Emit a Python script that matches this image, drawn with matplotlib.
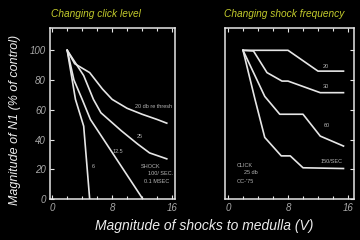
import matplotlib
matplotlib.use("Agg")
import matplotlib.pyplot as plt

# ---- data (left: changing click level) ----
click_x_20 = [2, 3, 5, 6.7, 8, 10, 12, 14, 15.3]
click_y_20 = [100, 91, 85, 74, 67, 61, 57, 53.5, 51]
click_x_25 = [2, 4.2, 5.5, 6.5, 9.2, 11.4, 13, 15.3]
click_y_25 = [100, 83, 67, 58, 46, 37, 31, 27]
click_x_125 = [2, 2.9, 4.0, 5.1, 12.1]
click_y_125 = [100, 80, 67, 53.5, 0]
click_x_6 = [2, 3.1, 4.2, 5.0]
click_y_6 = [100, 67, 49, 0]

# ---- data (right: changing shock frequency) ----
freq_x_20 = [2, 8, 10, 12, 15.4]
freq_y_20 = [100, 100, 93, 86, 86]
freq_x_30 = [2, 3.4, 5.2, 7.2, 8, 12.3, 15.4]
freq_y_30 = [100, 99.5, 85, 79.3, 79.3, 71.5, 71.5]
freq_x_60 = [2, 4.9, 6.9, 10, 12.3, 15.4]
freq_y_60 = [100, 69, 57, 57, 42.3, 35.6]
freq_x_150 = [2, 3.6, 4.9, 7.1, 8.3, 10, 15.4]
freq_y_150 = [100, 67, 41.4, 29, 29, 21, 20.5]

x_ticks = [0, 8, 16]
y_ticks = [0, 20, 40, 60, 80, 100]

BG = "black"
LINE = "#e6e6e6"
TICKC = "#a8a8a8"
TITLEC = "#c4cc2c"
FONT = "Liberation Sans"

fig = plt.figure(figsize=(3.6, 2.4), dpi=100, facecolor=BG)
axL = fig.add_axes([50/360, 41/240, 125/360, 171/240])
axR = fig.add_axes([225/360, 41/240, 129/360, 171/240])

for ax, xl in ((axL, (-0.3, 16.4)), (axR, (-0.4, 16.8))):
    ax.set_facecolor(BG)
    ax.set_xlim(*xl)
    ax.set_ylim(0, 115)
    for s in ax.spines.values():
        s.set_color(LINE)
        s.set_linewidth(1.1)
    ax.set_xticks(x_ticks)
    ax.set_xticks(range(0, 17, 2), minor=True)
    ax.set_yticks(y_ticks)
    ax.tick_params(which="both", direction="in", color=LINE, width=0.8,
                   top=True, labelsize=7, labelcolor=TICKC, pad=3)
    ax.tick_params(which="major", length=3)
    ax.tick_params(which="minor", length=2)
    for lab in ax.get_xticklabels() + ax.get_yticklabels():
        lab.set_fontstyle("italic")
        lab.set_fontfamily(FONT)

axL.tick_params(axis="y", left=True, right=False)
axR.tick_params(axis="y", left=False, right=True, labelleft=False, labelright=False)

lw = 1.2
for xs, ys in ((click_x_20, click_y_20), (click_x_25, click_y_25),
               (click_x_125, click_y_125), (click_x_6, click_y_6)):
    axL.plot(xs, ys, color=LINE, lw=lw, solid_joinstyle="round")
for xs, ys in ((freq_x_20, freq_y_20), (freq_x_30, freq_y_30),
               (freq_x_60, freq_y_60), (freq_x_150, freq_y_150)):
    axR.plot(xs, ys, color=LINE, lw=lw, solid_joinstyle="round")

sm = dict(color="#b4b4b4", fontsize=4, fontfamily=FONT)
axL.text(11.0, 61.5, "20 db re thresh", **sm)
axL.text(11.3, 41, "25", **sm)
axL.text(8.1, 31, "12.5", **sm)
axL.text(5.3, 21, "6", **sm)
axL.text(11.8, 21, "SHOCK", **sm)
axL.text(12.8, 16, "100/ SEC.", **sm)
axL.text(12.2, 10.5, "0.1 MSEC", **sm)

axR.text(12.6, 88, "20", **sm)
axR.text(12.6, 74.5, "30", **sm)
axR.text(12.8, 48.5, "60", **sm)
axR.text(12.4, 24, "150/SEC", **sm)
axR.text(1.2, 21.5, "CLICK", **sm)
axR.text(2.1, 16.5, "25 db", **sm)
axR.text(1.2, 11, "OC-'75", **sm)

axL.set_title("Changing click level", color=TITLEC, fontsize=7.3,
              fontstyle="italic", fontfamily=FONT, pad=8, x=0.37)
axR.set_title("Changing shock frequency", color=TITLEC, fontsize=7.3,
              fontstyle="italic", fontfamily=FONT, pad=8, x=0.46)

fig.text(204/360, 14/240, "Magnitude of shocks to medulla (V)", color="#ececec",
         fontsize=10, fontstyle="italic", fontfamily=FONT, ha="center", va="center")
fig.text(15/360, 120/240, "Magnitude of N1 (% of control)", color="#ececec",
         fontsize=9, fontstyle="italic", fontfamily=FONT, ha="center", va="center",
         rotation=90)

fig.savefig("out.png", dpi=100, facecolor=BG)
